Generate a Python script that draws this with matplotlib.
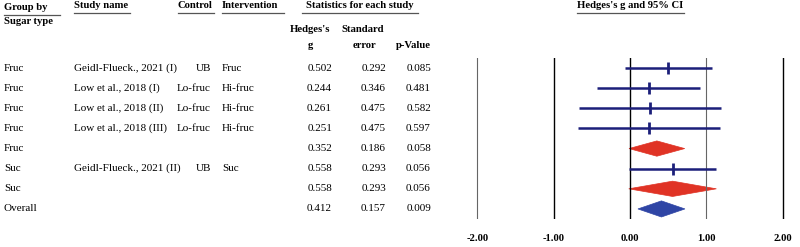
import matplotlib.pyplot as plt
import matplotlib.transforms as mtransforms
from matplotlib.patches import Polygon

# data
groups = ["Fruc", "Fruc", "Fruc", "Fruc", "Fruc", "Suc", "Suc", "Overall"]
studies = ["Geidl-Flueck., 2021 (I)", "Low et al., 2018 (I)", "Low et al., 2018 (II)",
           "Low et al., 2018 (III)", "", "Geidl-Flueck., 2021 (II)", "", ""]
controls = ["UB", "Lo-fruc", "Lo-fruc", "Lo-fruc", "", "UB", "", ""]
interventions = ["Fruc", "Hi-fruc", "Hi-fruc", "Hi-fruc", "", "Suc", "", ""]
hedges_g = [0.502, 0.244, 0.261, 0.251, 0.352, 0.558, 0.558, 0.412]
std_err = [0.292, 0.346, 0.475, 0.475, 0.186, 0.293, 0.293, 0.157]
p_values = [0.085, 0.481, 0.582, 0.597, 0.058, 0.056, 0.056, 0.009]
ci_low = [-0.070, -0.434, -0.670, -0.680, -0.013, -0.016, -0.016, 0.104]
ci_high = [1.074, 0.922, 1.192, 1.182, 0.717, 1.132, 1.132, 0.720]
row_kind = ["study", "study", "study", "study", "group", "study", "group", "overall"]
x_ticks = [-2, -1, 0, 1, 2]

W, H = 800, 247
fig = plt.figure(figsize=(8, 2.47), dpi=100)
plt.rcParams["font.family"] = ["Liberation Serif", "DejaVu Serif"]
FS = 8.0
HFS = 7.7

# forest axes: x=0 at 630px, 76.3px per unit; rows 20.1px apart starting at y=68
ax = fig.add_axes([(630 - 2.05 * 76.3) / W, (H - 219) / H, 4.1 * 76.3 / W, 161 / H])
ax.set_xlim(-2.05, 2.05)
ax.set_ylim(len(groups) + 0.5, 0.5)
ax.axis("off")

line_colors = {-2: "#666666", -1: "black", 0: "black", 1: "#666666", 2: "black"}
for t in x_ticks:
    ax.axvline(t, color=line_colors[t], lw=1.0 if line_colors[t] == "black" else 0.8)
    ax.text(t, len(groups) + 1.45, f"{t:.2f}", ha="center", va="center",
            fontsize=HFS, fontweight="bold")

navy = "#1c1f7a"
for i, kind in enumerate(row_kind):
    y = i + 1
    if kind == "study":
        ax.plot([ci_low[i], ci_high[i]], [y, y], color=navy, lw=1.8, solid_capstyle="butt")
        ax.plot([hedges_g[i]], [y], marker="|", ms=9, mew=2, color=navy)
    else:
        color = "#e03325" if kind == "group" else "#2f45a5"
        h = 0.38 if kind == "group" else 0.4
        ax.add_patch(Polygon([(ci_low[i], y), (hedges_g[i], y - h),
                              (ci_high[i], y), (hedges_g[i], y + h)],
                             closed=True, facecolor=color, edgecolor=color, lw=0.5))

# table text: x in figure pixels, y in forest row units
tr = mtransforms.blended_transform_factory(fig.transFigure, ax.transData)
for i in range(len(groups)):
    y = i + 1
    ax.text(4 / W, y, groups[i], transform=tr, ha="left", va="center", fontsize=FS, clip_on=False)
    ax.text(74 / W, y, studies[i], transform=tr, ha="left", va="center", fontsize=FS, clip_on=False)
    ax.text(211 / W, y, controls[i], transform=tr, ha="right", va="center", fontsize=FS, clip_on=False)
    ax.text(222 / W, y, interventions[i], transform=tr, ha="left", va="center", fontsize=FS, clip_on=False)
    ax.text(332 / W, y, f"{hedges_g[i]:.3f}", transform=tr, ha="right", va="center", fontsize=FS, clip_on=False)
    ax.text(386 / W, y, f"{std_err[i]:.3f}", transform=tr, ha="right", va="center", fontsize=FS, clip_on=False)
    ax.text(431 / W, y, f"{p_values[i]:.3f}", transform=tr, ha="right", va="center", fontsize=FS, clip_on=False)


def head(x, y, s, ha="left"):
    fig.text(x / W, 1 - y / H, s, ha=ha, va="center", fontsize=HFS, fontweight="bold")


def underline(x0, x1, y):
    fig.add_artist(plt.Line2D([x0 / W, x1 / W], [1 - y / H, 1 - y / H],
                              color="#555555", lw=0.9))


head(4, 7, "Group by")
head(4, 22, "Sugar type")
underline(4, 60, 15)
head(74, 6, "Study name")
underline(74, 130, 13)
head(178, 6, "Control")
underline(178, 214, 13)
head(222, 6, "Intervention")
underline(222, 284, 13)
head(360, 6, "Statistics for each study", ha="center")
underline(302, 418, 13)
head(310, 29, "Hedges's", ha="center")
head(310, 45, "g", ha="center")
head(363, 29, "Standard", ha="center")
head(364, 45, "error", ha="center")
head(413, 45, "p-Value", ha="center")
head(630, 6, "Hedges's g and 95% CI", ha="center")
underline(577, 684, 13)

fig.savefig("out.png", dpi=100)
